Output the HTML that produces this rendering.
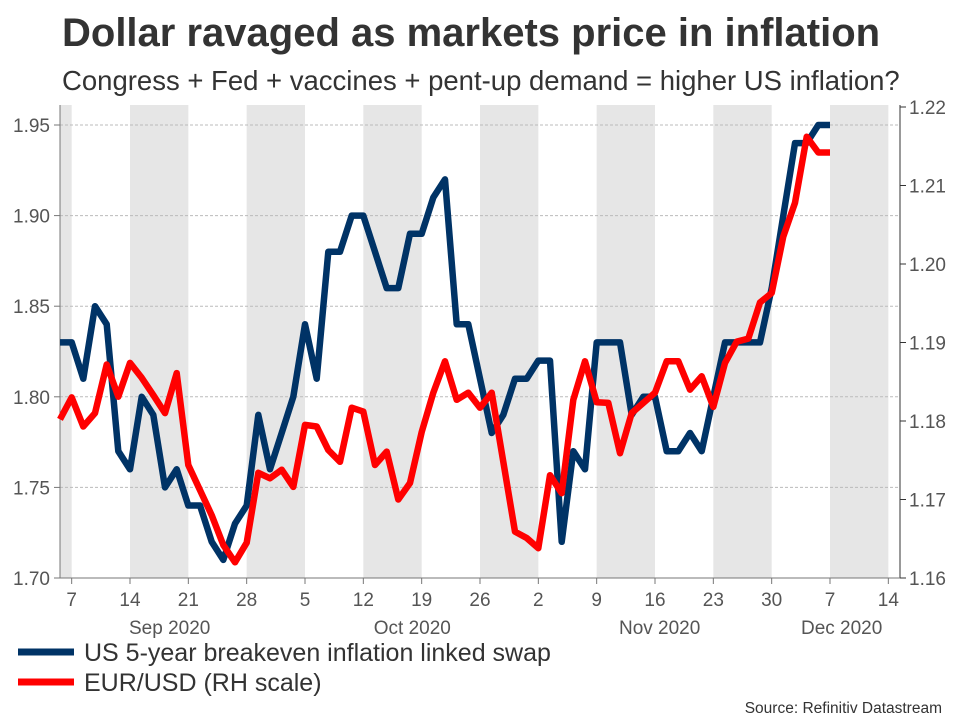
<!DOCTYPE html>
<html><head><meta charset="utf-8"><style>
body{margin:0;background:#fff;font-family:"Liberation Sans",Arial,sans-serif;}
svg{display:block}
</style></head><body>
<svg width="960" height="720" viewBox="0 0 960 720" id="chart">
<text x="62" y="46" font-size="40" font-weight="bold" fill="#333">Dollar ravaged as markets price in inflation</text>
<text x="62" y="90" font-size="27.5" fill="#333">Congress + Fed + vaccines + pent-up demand = higher US inflation?</text>
<g id="bands"></g>
<g id="grid"></g>
<g id="axes"></g>
<g id="series"></g>
<g>
<line x1="18" y1="652" x2="74" y2="652" stroke="#003366" stroke-width="7"/>
<text x="84" y="661" font-size="25" fill="#333">US 5-year breakeven inflation linked swap</text>
<line x1="18" y1="682" x2="74" y2="682" stroke="#ff0000" stroke-width="7"/>
<text x="84" y="691" font-size="25" fill="#333">EUR/USD (RH scale)</text>
</g>
<text x="942" y="713" font-size="15.5" fill="#333" text-anchor="end">Source: Refinitiv Datastream</text>
</svg>
<script>
const breakeven=[1.83,1.83,1.81,1.85,1.84,1.77,1.76,1.80,1.79,1.75,1.76,1.74,1.74,1.72,1.71,1.73,1.74,1.79,1.76,1.78,1.80,1.84,1.81,1.88,1.88,1.90,1.90,1.88,1.86,1.86,1.89,1.89,1.91,1.92,1.84,1.84,1.81,1.78,1.79,1.81,1.81,1.82,1.82,1.72,1.77,1.76,1.83,1.83,1.83,1.79,1.80,1.80,1.77,1.77,1.78,1.77,1.80,1.83,1.83,1.83,1.83,1.86,1.90,1.94,1.94,1.95,1.95];
const eurusd=[1.1802,1.183,1.1793,1.181,1.1872,1.1831,1.1874,1.1855,1.1833,1.181,1.1861,1.1744,1.1712,1.168,1.1642,1.162,1.1645,1.1734,1.1727,1.1738,1.1716,1.1795,1.1793,1.1763,1.1748,1.1817,1.1812,1.1744,1.1761,1.17,1.1721,1.1786,1.1836,1.1876,1.1827,1.1836,1.1817,1.1836,1.1748,1.1659,1.1651,1.1638,1.1731,1.1708,1.1827,1.1876,1.1824,1.1823,1.1759,1.181,1.1823,1.1836,1.1876,1.1876,1.184,1.1857,1.1818,1.1874,1.1901,1.1905,1.1951,1.1963,1.2035,1.2078,1.2162,1.2142,1.2142];
const leftTicks=[1.70,1.75,1.80,1.85,1.90,1.95];
const rightTicks=[1.16,1.17,1.18,1.19,1.20,1.21,1.22];
const xTickLabels=["7","14","21","28","5","12","19","26","2","9","16","23","30","7","14"];
const monthLabels=["Sep 2020","Oct 2020","Nov 2020","Dec 2020"];
const monthIndex=[9.4,30.2,51.4,67];

const X0=60,X1=900,Y0=578,NS="http://www.w3.org/2000/svg";
const xs=i=>X0+(X1-X0)*i/72;
const yL=v=>Y0-(v-1.70)*(578-125)/0.25;
const yR=v=>Y0-(v-1.16)*(578-107)/0.06;
function mk(tag,attrs,parent,txt){const e=document.createElementNS(NS,tag);for(const k in attrs)e.setAttribute(k,attrs[k]);if(txt!==undefined)e.textContent=txt;document.getElementById(parent).appendChild(e);return e;}
for(let w=-1;w<15;w+=2){let a=Math.max(0,w*5+1),b=Math.min(72,w*5+6);if(b<=a)continue;
 const r=mk('rect',{x:xs(a),y:105,width:xs(b)-xs(a),height:Y0-105,fill:'#e6e6e6'},'bands');
 
 }
leftTicks.forEach(v=>{const y=yL(v);
 const g=mk('line',{x1:X0,x2:X1,y1:y,y2:y,stroke:'#bbb','stroke-dasharray':'3,2','stroke-width':1},'grid');
 
 
 mk('line',{x1:X0-6,x2:X0,y1:y,y2:y,stroke:'#777'},'axes');
 const t=mk('text',{x:X0-10,y:y+7,'font-size':19,fill:'#555','text-anchor':'end'},'axes',v.toFixed(2));
 
 });
rightTicks.forEach(v=>{const y=yR(v);
 mk('line',{x1:X1,x2:X1+6,y1:y,y2:y,stroke:'#333'},'axes');
 const t=mk('text',{x:X1+9,y:y+7,'font-size':19,fill:'#555'},'axes',v.toFixed(2));
 
 });
mk('line',{x1:X0,x2:X0,y1:105,y2:Y0,stroke:'#777'},'axes');
mk('line',{x1:X1,x2:X1,y1:105,y2:Y0,stroke:'#333'},'axes');
mk('line',{x1:X0,x2:X1,y1:Y0,y2:Y0,stroke:'#777'},'axes');
xTickLabels.forEach((s,k)=>{const x=xs(1+5*k);
 mk('line',{x1:x,x2:x,y1:Y0,y2:Y0+6,stroke:'#777'},'axes');
 const t=mk('text',{x:x,y:606,'font-size':19,fill:'#555','text-anchor':'middle'},'axes',s);
 
 });
monthLabels.forEach((s,k)=>{
 const t=mk('text',{x:xs(monthIndex[k]),y:634,'font-size':19,fill:'#555','text-anchor':'middle'},'axes',s);
 
 });
function line(arr,yf,col,name){const d=arr.map((v,i)=>(i?'L':'M')+xs(i).toFixed(1)+','+yf(v).toFixed(1)).join('');
 const p=mk('path',{d:d,fill:'none',stroke:col,'stroke-width':6.5,'stroke-linejoin':'round'},'series');
 
 }
line(breakeven,yL,'#003366','breakeven-line');
line(eurusd,yR,'#ff0000','eurusd-line');
</script>
</body></html>
